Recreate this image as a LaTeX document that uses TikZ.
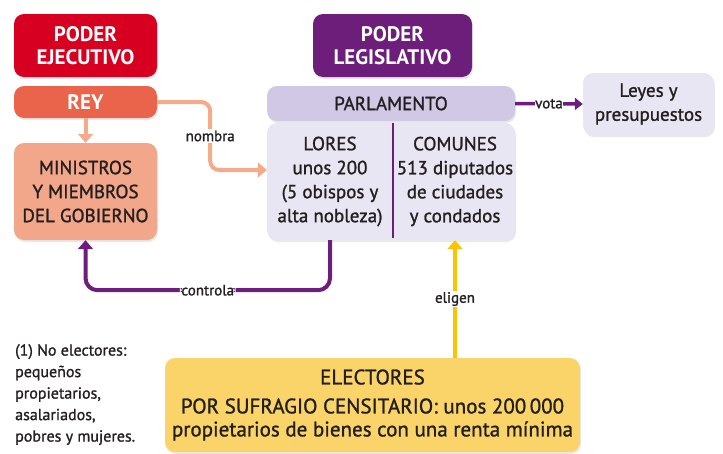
\documentclass[tikz,border=0pt]{standalone}
\usepackage{fontspec}
\setmainfont{PT Sans}
\newfontfamily\medio{PT Sans}[FakeBold=1.2]
\usetikzlibrary{arrows.meta,shadows}
\definecolor{ejecred}{RGB}{215,0,32}
\definecolor{reycol}{RGB}{233,100,74}
\definecolor{minicol}{RGB}{242,166,138}
\definecolor{salmon}{RGB}{246,170,140}
\definecolor{legispur}{RGB}{108,30,122}
\definecolor{parlcol}{RGB}{208,200,228}
\definecolor{camcol}{RGB}{233,230,243}
\definecolor{electcol}{RGB}{250,212,104}
\definecolor{amarillo}{RGB}{250,196,0}
\definecolor{tinta}{RGB}{35,31,32}

\begin{document}
\begin{tikzpicture}[x=1pt,y=-1pt,
    texto/.style={align=center, inner sep=0pt, text=tinta, font=\medio\fontsize{19}{24}\selectfont},
    caja/.style={texto, rounded corners=10pt,
      drop shadow={opacity=0.18, shadow xshift=1pt, shadow yshift=-2pt}},
    titulo/.style={caja, text=white, font=\bfseries\fontsize{21}{23}\selectfont},
    flecha/.style={line width=4pt, -{Triangle[length=9pt,width=15pt]}},
    etiqueta/.style={fill=white, text=tinta, inner sep=1.5pt, font=\medio\fontsize{15}{17}\selectfont}]
  \useasboundingbox (0,0) rectangle (723,453);

  % poder ejecutivo
  \node[titulo, fill=ejecred, minimum width=143pt, minimum height=63pt] (ejecutivo) at (85.5,45.5) {PODER\\EJECUTIVO};
  \node[titulo, fill=reycol, minimum width=143pt, minimum height=32pt] (rey) at (85.5,102) {REY};
  \node[caja, fill=minicol, minimum width=143pt, minimum height=97pt] (ministros) at (85.5,191.5) {MINISTROS\\Y MIEMBROS\\DEL GOBIERNO};

  % poder legislativo
  \node[titulo, fill=legispur, minimum width=159pt, minimum height=63pt] (legislativo) at (392.5,45.5) {PODER\\LEGISLATIVO};
  \node[caja, fill=parlcol, minimum width=248pt, minimum height=35pt] (parlamento) at (391,103.5) {PARLAMENTO};
  \node[caja, fill=camcol, minimum width=248pt, minimum height=117pt] (camaras) at (391,181.5) {};
  \node[texto] (lores) at (330,181.5) {LORES\\unos 200\\(5 obispos y\\alta nobleza)};
  \node[texto] (comunes) at (455,181.5) {COMUNES\\513 diputados\\de ciudades\\y condados};
  \draw[legispur, line width=2.5pt] ([xshift=2pt]camaras.north) -- ([xshift=2pt,yshift=2pt]camaras.south);
  \node[caja, fill=camcol, minimum width=131pt, minimum height=62pt] (leyes) at (648.5,104) {Leyes y\\presupuestos};

  % electores
  \node[caja, fill=electcol, minimum width=415pt, minimum height=94pt, font=\medio\fontsize{21}{23}\selectfont] (electores) at (372.5,405) {ELECTORES\\[6pt]POR SUFRAGIO CENSITARIO: unos 200\,000\\propietarios de bienes con una renta mínima};
  \node[texto, anchor=north west, align=left, font=\medio\fontsize{16}{21.5}\selectfont] (noelectores) at (15,344) {(1) No electores:\\pequeños\\propietarios,\\asalariados,\\pobres y mujeres.};

  % conexiones
  \draw[flecha, salmon] (rey) -- (ministros);
  \draw[flecha, salmon, rounded corners=9pt] (rey.east) -- ++(53,0) |- node[etiqueta, pos=0.25] {nombra} ([yshift=11.5pt]camaras.west);
  \draw[flecha, legispur, rounded corners=12pt] (lores.south |- camaras.south) -- ++(0,50) -| node[etiqueta, pos=0.25] {controla} (ministros.south);
  \draw[flecha, amarillo] (comunes.south |- electores.north) -- node[etiqueta] {eligen} (comunes.south |- camaras.south);
  \draw[legispur, line width=3.5pt, -{Triangle[length=8pt,width=12pt]}] (parlamento.east) -- node[etiqueta, inner sep=0.5pt] {vota} (leyes.west);
\end{tikzpicture}
\end{document}
